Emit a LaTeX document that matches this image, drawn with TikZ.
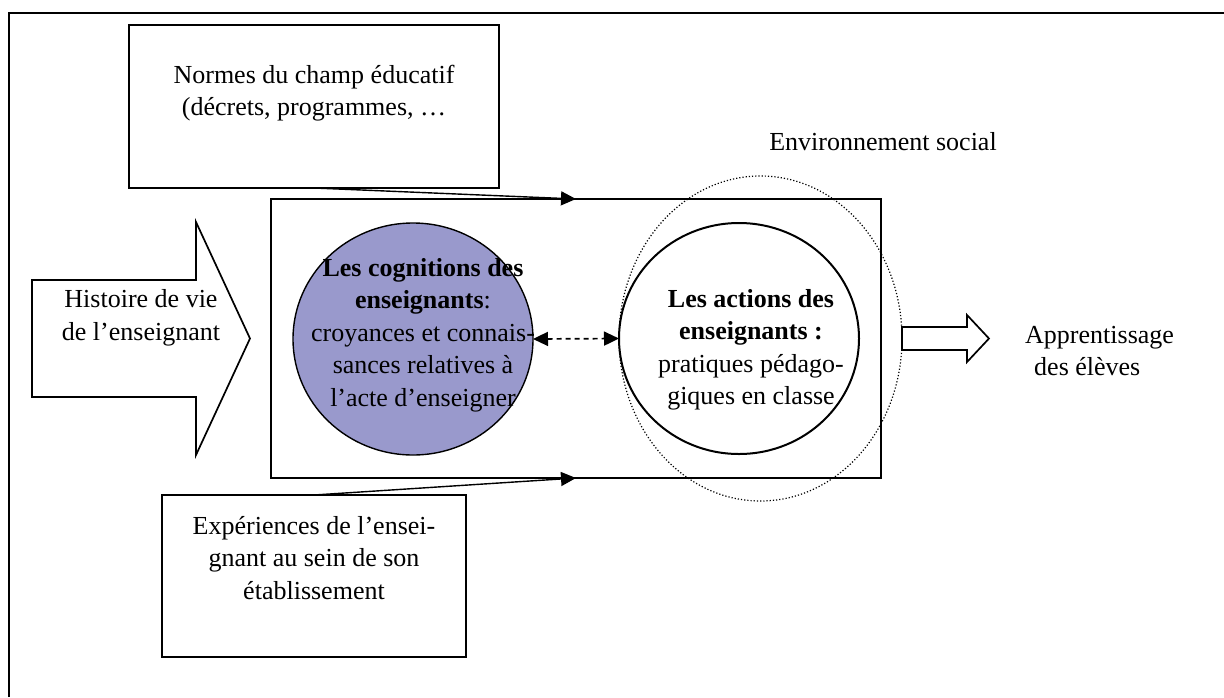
\documentclass[tikz,border=0pt]{standalone}
\usepackage{fontspec}
\setmainfont{Liberation Serif}
\usetikzlibrary{shapes.geometric,arrows.meta,positioning}
\definecolor{cognfill}{HTML}{9999CC}
\begin{document}
\begin{tikzpicture}[x=1pt,y=-1pt,>={Triangle[length=15pt,width=14pt]},
    font=\fontsize{26}{32.5}\selectfont,
    box/.style={draw,line width=1.7pt,inner sep=0pt,outer sep=0pt},
    bulle/.style={ellipse,draw,inner sep=0pt,outer sep=0pt,minimum width=240,minimum height=232},
    txt/.style={align=center,inner sep=0pt}]
    \useasboundingbox (0,0) rectangle (1224,697);
    \draw[line width=2.5pt] (9,697) -- (9,13) -- (1224,13);
    \node[box,minimum width=370,minimum height=163] (normes) at (314,106.5) {};
    \node[txt,yshift=13.5pt] (normestxt) at (normes) {Normes du champ éducatif\\(décrets, programmes, …};
    \node[box,minimum width=304,minimum height=162] (exper) at (314,576) {};
    \node[txt,yshift=18pt] (expertxt) at (exper) {Expériences de l’ensei-\\gnant au sein de son\\établissement};
    \node[box,minimum width=610,minimum height=279] (cadre) at (576,338.5) {};
    \node[bulle,fill=cognfill,line width=1.4pt] (cogn) at (413,339) {};
    \node[txt] (cogntxt) at (423,335) {\textbf{Les cognitions des}\\\textbf{enseignants}:\\croyances et connais-\\sances relatives à\\l’acte d’enseigner};
    \node[bulle,line width=2pt,minimum height=231] (act) at (739,338.5) {};
    \node[txt] (acttxt) at (751,350) {\textbf{Les actions des}\\\textbf{enseignants :}\\pratiques pédago-\\giques en classe};
    \node[ellipse,draw,inner sep=0pt,outer sep=0pt,line width=1.2pt,dash pattern=on 1.2pt off 2pt,
        minimum width=283,minimum height=325] (env) at (760.5,338.5) {};
    \node[txt] (envtxt) at (883,142) {Environnement social};
    \node[txt] (histtxt) at (141,318) {Histoire de vie\\de l’enseignant};
    \node[txt,align=left,anchor=west] (apprtxt) at (1025,351) {Apprentissage\\\hspace*{9pt}des élèves};
    \draw[line width=1.7pt] (32,280) -- (196,280) -- (196,222) -- (250,338.5) -- (196,455) -- (196,397) -- (32,397) -- cycle;
    \draw[line width=1.7pt] (env.east) ++(0,-11.5) -- ++(65,0) -- ++(0,-12) -- ++(22,23.5) -- ++(-22,23.5) -- ++(0,-12) -- ++(-65,0) -- cycle;
    \draw[->,line width=1.4pt] (normes.south) -- (cadre.north);
    \draw[->,line width=1.4pt] (exper.north) -- (cadre.south);
    \draw[<->,line width=1.7pt,dash pattern=on 5pt off 4pt] (cogn.east) -- (act.west);
\end{tikzpicture}
\end{document}
